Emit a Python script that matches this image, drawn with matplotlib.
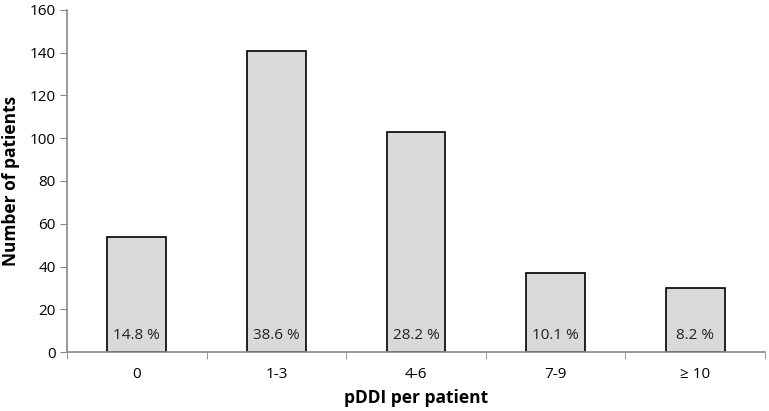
import matplotlib.pyplot as plt

categories = ['0', '1-3', '4-6', '7-9', '\u2265 10']
patients = [54, 141, 103, 37, 30]
percent = ['14.8 %', '38.6 %', '28.2 %', '10.1 %', '8.2 %']

plt.rcParams['font.family'] = ['Open Sans', 'DejaVu Sans']

fig = plt.figure(figsize=(7.69, 4.11), dpi=100)
ax = fig.add_axes([67 / 769, 59 / 411, 698 / 769, 342 / 411])

x = list(range(len(categories)))
ax.bar(x, patients, width=0.42, color='#d9d9d9', edgecolor='black', linewidth=1.2, zorder=2)
for i, p in enumerate(percent):
    ax.text(x[i], 7.5, p, ha='center', va='center', fontsize=11, color='#222222', zorder=3)

ax.set_xlim(-0.5, len(categories) - 0.5)
ax.set_ylim(0, 160)
ax.set_yticks(range(0, 161, 20))
ax.set_xticks(x)
ax.set_xticklabels(categories)
ax.set_xticks([i - 0.5 for i in range(len(categories) + 1)], minor=True)
ax.tick_params(axis='x', which='major', length=0, pad=11, labelsize=11)
ax.tick_params(axis='x', which='minor', length=5, color='#888888', direction='out')
ax.tick_params(axis='y', length=5, color='#888888', labelsize=11, pad=3)

for s in ['top', 'right']:
    ax.spines[s].set_visible(False)
for s in ['left', 'bottom']:
    ax.spines[s].set_color('#888888')
    ax.spines[s].set_linewidth(1.2)

ax.set_ylabel('Number of patients', fontsize=12.5, fontweight='bold', labelpad=7)
ax.set_xlabel('pDDI per patient', fontsize=12.5, fontweight='bold', labelpad=5)

fig.savefig('out.png', dpi=100)
